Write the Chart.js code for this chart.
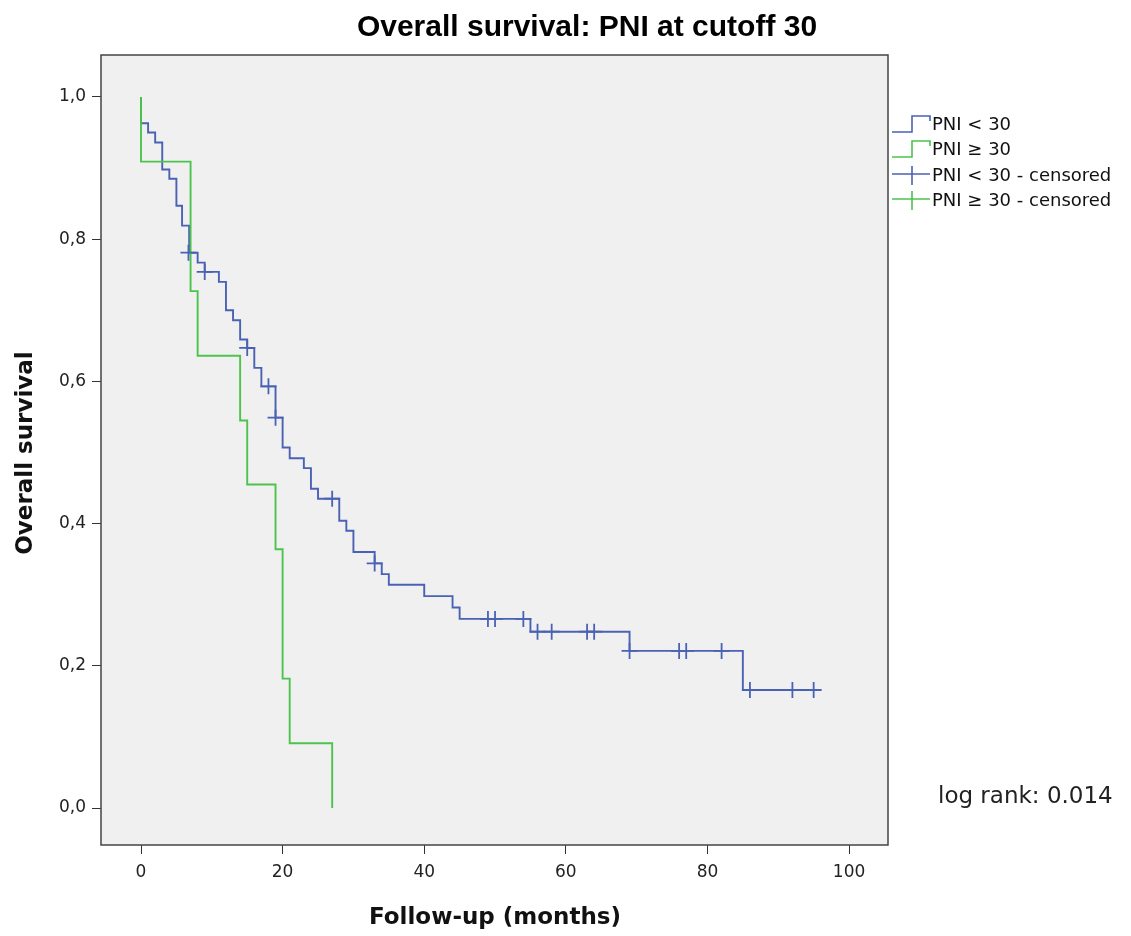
<!DOCTYPE html>
<html><head><meta charset="utf-8">
<script src="https://cdn.jsdelivr.net/npm/chart.js@4.4.1/dist/chart.umd.min.js"></script>
<style>html,body{margin:0;padding:0;background:#fff;}#wrap{width:1131px;height:936px;}</style>
</head><body><div id="wrap"><canvas id="c" width="1131" height="936"></canvas></div>
<script>
// Kaplan-Meier step points: PNI < 30
const blueTimes = [0, 0, 1, 2, 3, 4, 5, 5.8, 6.8, 8, 9, 11, 12, 13, 14, 15, 16, 17, 19, 20, 21, 23, 24, 25, 28, 29, 30, 33, 34, 35, 40, 44, 45, 55, 69, 85, 95];
const blueSurv  = [1, 0.963, 0.950, 0.936, 0.898, 0.885, 0.847, 0.819, 0.781, 0.767, 0.754, 0.740, 0.700, 0.686, 0.659, 0.647, 0.619, 0.593, 0.549, 0.507, 0.492, 0.478, 0.449, 0.435, 0.404, 0.390, 0.360, 0.344, 0.329, 0.314, 0.298, 0.282, 0.266, 0.248, 0.221, 0.166, 0.166];
// PNI >= 30
const greenTimes = [0, 0, 7, 8, 14, 15, 19, 20, 21, 27];
const greenSurv  = [1, 0.909, 0.727, 0.636, 0.545, 0.455, 0.364, 0.182, 0.091, 0];
// censored marks PNI < 30
const blueCensTimes = [6.7, 9, 15, 18, 19, 27, 33, 49, 50, 54, 56, 58, 63, 64, 69, 76, 77, 82, 86, 92, 95];
const blueCensSurv  = [0.781, 0.754, 0.647, 0.593, 0.549, 0.435, 0.344, 0.266, 0.266, 0.266, 0.248, 0.248, 0.248, 0.248, 0.221, 0.221, 0.221, 0.221, 0.166, 0.166, 0.166];
const xTicks = [0, 20, 40, 60, 80, 100];
const yTicks = [0, 0.2, 0.4, 0.6, 0.8, 1.0];
const yTickLabels = ['0,0', '0,2', '0,4', '0,6', '0,8', '1,0'];
const legendLabels = ['PNI < 30', 'PNI \u2265 30', 'PNI < 30 - censored', 'PNI \u2265 30 - censored'];
const titleText = 'Overall survival: PNI at cutoff 30';
const xTitle = 'Follow-up (months)';
const yTitle = 'Overall survival';
const noteText = 'log rank: 0.014';

const BLUE = '#4a62b4';
const GREEN = '#4cc34c';
const FONT = '"Liberation Sans", Arial, sans-serif';
const WFONT = '"DejaVu Sans", Verdana, sans-serif';

const toPts = (xs, ys) => xs.map((x, i) => ({x: x, y: ys[i]}));

const decor = {
  id: 'decor',
  beforeDraw(chart) {
    const {ctx, chartArea: a} = chart;
    ctx.save();
    ctx.fillStyle = '#fff';
    ctx.fillRect(0, 0, chart.width, chart.height);
    ctx.fillStyle = '#f0f0f0';
    ctx.fillRect(a.left, a.top, a.right - a.left, a.bottom - a.top);
    ctx.restore();
  },
  afterDraw(chart) {
    const {ctx, chartArea: a} = chart;
    ctx.save();
    ctx.strokeStyle = '#444';
    ctx.lineWidth = 1.5;
    ctx.strokeRect(a.left, a.top, a.right - a.left, a.bottom - a.top);
    // title
    ctx.fillStyle = '#000';
    ctx.font = 'bold 30px ' + FONT;
    ctx.textAlign = 'center';
    ctx.textBaseline = 'middle';
    ctx.fillText(titleText, 587, 28);
    // axis titles
    ctx.font = 'bold 23px ' + WFONT;
    ctx.fillStyle = '#111';
    ctx.fillText(xTitle, 495, 918);
    ctx.save();
    ctx.translate(26, 453);
    ctx.rotate(-Math.PI / 2);
    ctx.fillText(yTitle, 0, 0);
    ctx.restore();
    // note
    ctx.font = '23px ' + WFONT;
    ctx.textAlign = 'left';
    ctx.fillStyle = '#222';
    ctx.fillText(noteText, 938, 797);
    // legend
    const rows = [125, 150, 176, 201];
    const cols = [BLUE, GREEN, BLUE, GREEN];
    ctx.font = '18px ' + WFONT;
    ctx.textBaseline = 'middle';
    for (let i = 0; i < 4; i++) {
      const y = rows[i];
      ctx.strokeStyle = cols[i];
      ctx.lineWidth = 1.6;
      ctx.beginPath();
      if (i < 2) {
        ctx.moveTo(892, y + 7);
        ctx.lineTo(912, y + 7);
        ctx.lineTo(912, y - 9);
        ctx.lineTo(930, y - 9);
        ctx.lineTo(930, y - 4);
      } else {
        ctx.moveTo(892, y - 2);
        ctx.lineTo(930, y - 2);
        ctx.moveTo(912, y - 10);
        ctx.lineTo(912, y + 9);
      }
      ctx.stroke();
      ctx.fillStyle = '#111';
      ctx.fillText(legendLabels[i], 932, y);
    }
    ctx.restore();
  }
};

new Chart(document.getElementById('c'), {
  type: 'line',
  data: {
    datasets: [
      {label: legendLabels[0], data: toPts(blueTimes, blueSurv), borderColor: BLUE, borderWidth: 1.9, stepped: 'before', pointRadius: 0, fill: false, order: 2},
      {label: legendLabels[1], data: toPts(greenTimes, greenSurv), borderColor: GREEN, borderWidth: 1.9, stepped: 'before', pointRadius: 0, fill: false, order: 1},
      {label: legendLabels[2], data: toPts(blueCensTimes, blueCensSurv), showLine: false, pointStyle: 'cross', pointRadius: 8, borderColor: BLUE, borderWidth: 1.8, backgroundColor: BLUE, order: 0},
      {label: legendLabels[3], data: [], showLine: false, pointStyle: 'cross', pointRadius: 8, borderColor: GREEN, borderWidth: 1.8, order: 0}
    ]
  },
  options: {
    responsive: false,
    animation: false,
    layout: {padding: {top: 55, right: 243, left: 0, bottom: 0}},
    plugins: {legend: {display: false}, title: {display: false}, tooltip: {enabled: false}},
    scales: {
      x: {
        type: 'linear', min: -5.65, max: 105.5,
        afterBuildTicks: s => { s.ticks = xTicks.map(v => ({value: v})); },
        afterFit: s => { s.height = 91; },
        grid: {drawOnChartArea: false, drawTicks: true, tickLength: 9, color: '#333', lineWidth: 1},
        border: {display: false},
        ticks: {color: '#222', font: {size: 17, family: WFONT}, padding: 8, maxRotation: 0},
        title: {display: false}
      },
      y: {
        type: 'linear', min: -0.052, max: 1.059,
        afterBuildTicks: s => { s.ticks = yTicks.map(v => ({value: v})); },
        afterFit: s => { s.width = 101; },
        grid: {drawOnChartArea: false, drawTicks: true, tickLength: 9, color: '#333', lineWidth: 1},
        border: {display: false},
        ticks: {color: '#222', font: {size: 17, family: WFONT}, padding: 6,
          callback: (v) => { const i = yTicks.findIndex(t => Math.abs(t - v) < 1e-6); return i >= 0 ? yTickLabels[i] : ''; }},
        title: {display: false}
      }
    }
  },
  plugins: [decor]
});
</script>
</body></html>
